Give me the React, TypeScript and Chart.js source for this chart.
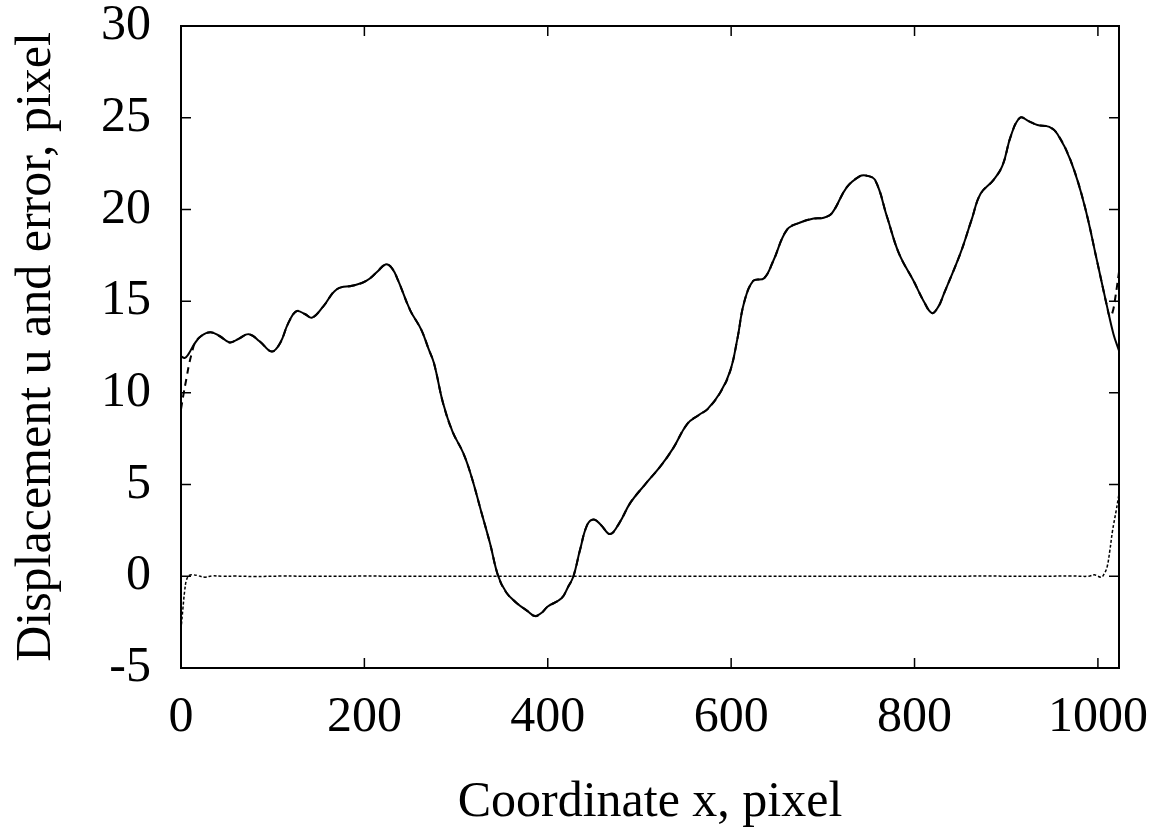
import React, { useEffect, useRef } from "react";
import { Chart, registerables } from "chart.js";

Chart.register(...registerables);

// Displacement u (solid)
const solidX = [0, 4, 8, 15, 22, 32, 42, 53, 63, 74, 86, 99, 108, 117, 126, 135, 143, 155, 170, 188, 202, 214, 223, 230, 237, 250, 262, 270, 276, 286, 296, 308, 317, 327, 337, 346, 355, 366, 378, 386, 393, 400, 415, 422, 428, 435, 443, 450, 458, 468, 478, 490, 506, 523, 537, 552, 565, 574, 588, 599, 607, 614, 624, 636, 646, 661, 676, 690, 701, 710, 726, 740, 747, 757, 770, 783, 799, 810, 819, 826, 832, 850, 862, 872, 886, 896, 905, 915, 925, 934, 947, 956, 970, 985, 999, 1010, 1017, 1023];
const solidY = [12.0, 11.9, 12.1, 12.7, 13.1, 13.3, 13.1, 12.75, 12.95, 13.2, 12.8, 12.25, 12.7, 13.8, 14.45, 14.3, 14.1, 14.7, 15.65, 15.85, 16.1, 16.6, 17.0, 16.8, 16.1, 14.5, 13.45, 12.4, 11.6, 9.4, 7.9, 6.7, 5.4, 3.6, 1.8, 0.0, -0.9, -1.45, -1.9, -2.17, -2.0, -1.65, -1.2, -0.6, 0.0, 1.4, 2.8, 3.1, 2.8, 2.3, 2.9, 4.0, 5.0, 6.0, 7.0, 8.3, 8.8, 9.1, 10.0, 11.2, 13.0, 14.9, 16.1, 16.25, 17.2, 18.9, 19.3, 19.5, 19.55, 19.8, 21.2, 21.8, 21.85, 21.6, 19.6, 17.6, 16.1, 15.0, 14.35, 14.7, 15.4, 17.6, 19.4, 20.85, 21.6, 22.4, 24.0, 25.0, 24.8, 24.6, 24.5, 24.1, 22.7, 20.3, 17.2, 14.7, 13.2, 12.3];

// Reference displacement (dashed) – differs from solid only near the edges
const dashedLeftX = [0, 3, 6, 9, 12, 15];
const dashedLeftY = [9.1, 10.0, 10.8, 11.6, 12.2, 12.7];
const dashedRightX = [1010, 1013, 1016, 1019, 1023];
const dashedRightY = [14.7, 14.15, 14.4, 15.2, 16.6];

// Error (dotted)
const errorX = [0, 2, 4, 6, 9, 13, 18, 26, 34, 45, 60, 80, 110, 150, 200, 260, 320, 400, 480, 560, 640, 720, 800, 880, 940, 970, 990, 996, 1000, 1004, 1007, 1010, 1013, 1016, 1020, 1023];
const errorY = [-2.9, -1.8, -0.8, -0.2, 0.05, 0.08, 0.04, -0.05, 0.02, 0.0, 0.01, -0.01, 0.01, 0.0, 0.01, 0.0, 0.0, 0.0, 0.0, 0.0, 0.0, 0.0, 0.0, 0.01, 0.0, 0.02, 0.0, 0.08, 0.0, -0.05, 0.15, 0.5, 1.4, 2.5, 3.6, 4.5];

const xTicks = [0, 200, 400, 600, 800, 1000];
const yTicks = [-5, 0, 5, 10, 15, 20, 25, 30];

const FONT = "'Liberation Serif', 'Times New Roman', serif";

const framePlugin = {
  id: "frameTicks",
  afterDraw(chart: any) {
    const { ctx, chartArea: a } = chart;
    const xs = chart.scales.x;
    const ys = chart.scales.y;
    ctx.save();
    ctx.strokeStyle = "#000";
    ctx.lineWidth = 1.5;
    const L = 10;
    ctx.beginPath();
    xTicks.forEach((v) => {
      const px = xs.getPixelForValue(v);
      ctx.moveTo(px, a.bottom);
      ctx.lineTo(px, a.bottom - L);
      ctx.moveTo(px, a.top);
      ctx.lineTo(px, a.top + L);
    });
    yTicks.forEach((v) => {
      const py = ys.getPixelForValue(v);
      ctx.moveTo(a.left, py);
      ctx.lineTo(a.left + L, py);
      ctx.moveTo(a.right, py);
      ctx.lineTo(a.right - L, py);
    });
    ctx.stroke();
    ctx.lineWidth = 2;
    ctx.strokeRect(a.left, a.top, a.right - a.left, a.bottom - a.top);
    ctx.restore();
  },
};

export default function App() {
  const ref = useRef<HTMLCanvasElement>(null);
  useEffect(() => {
    const solid = solidX.map((x, i) => ({ x, y: solidY[i] }));
    const mid = solid.filter((p) => p.x > 15 && p.x < 1010);
    const dashed = [
      ...dashedLeftX.map((x, i) => ({ x, y: dashedLeftY[i] })),
      ...mid,
      ...dashedRightX.map((x, i) => ({ x, y: dashedRightY[i] })),
    ];
    const err = errorX.map((x, i) => ({ x, y: errorY[i] }));
    const chart = new Chart(ref.current!, {
      type: "line",
      data: {
        datasets: [
          { data: solid, borderColor: "#000", borderWidth: 2, pointRadius: 0, tension: 0.4, fill: false },
          { data: dashed, borderColor: "#000", borderWidth: 2, borderDash: [7, 5], pointRadius: 0, tension: 0.4, fill: false },
          { data: err, borderColor: "#000", borderWidth: 1.5, borderDash: [3, 2], pointRadius: 0, tension: 0.4, fill: false },
        ],
      },
      options: {
        animation: false,
        responsive: true,
        maintainAspectRatio: false,
        layout: { padding: { left: 0, top: 26, right: 37, bottom: 0 } },
        plugins: { legend: { display: false }, tooltip: { enabled: false } },
        scales: {
          x: {
            type: "linear",
            min: 0,
            max: 1023,
            grid: { display: false, drawTicks: false },
            border: { display: false },
            afterBuildTicks: (s: any) => {
              s.ticks = xTicks.map((v) => ({ value: v }));
            },
            afterFit: (s: any) => {
              s.height = 160;
              s.paddingLeft = 0;
              s.paddingRight = 0;
            },
            ticks: {
              color: "#000",
              font: { family: FONT, size: 50, lineHeight: 1 },
              padding: 25,
              maxRotation: 0,
              callback: (v: any) => String(v),
            },
            title: {
              display: true,
              text: "Coordinate x, pixel",
              color: "#000",
              font: { family: FONT, size: 50, lineHeight: 1 },
              padding: { top: 20, bottom: 0 },
            },
          },
          y: {
            min: -5,
            max: 30,
            grid: { display: false, drawTicks: false },
            border: { display: false },
            afterBuildTicks: (s: any) => {
              s.ticks = yTicks.map((v) => ({ value: v }));
            },
            afterFit: (s: any) => {
              s.width = 181;
              s.paddingTop = 0;
              s.paddingBottom = 0;
            },
            ticks: {
              color: "#000",
              font: { family: FONT, size: 50, lineHeight: 1 },
              padding: 30,
              callback: (v: any) => String(v),
            },
            title: {
              display: true,
              text: "Displacement u and error, pixel",
              color: "#000",
              font: { family: FONT, size: 50, lineHeight: 1 },
              padding: { top: 12, bottom: 0 },
            },
          },
        },
      },
      plugins: [framePlugin],
    });
    return () => chart.destroy();
  }, []);
  return (
    <div style={{ position: "fixed", left: 0, top: 0, width: 1156, height: 828, background: "#fff" }}>
      <canvas ref={ref} />
    </div>
  );
}
